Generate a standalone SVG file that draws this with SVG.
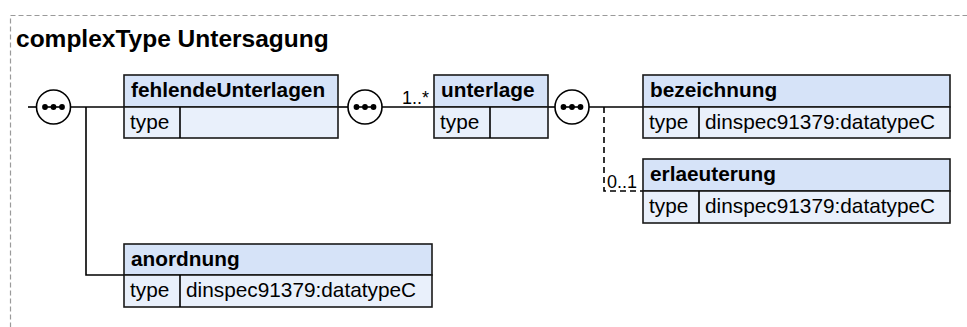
<svg xmlns="http://www.w3.org/2000/svg" width="967" height="327" viewBox="0 0 967 327">
<style>
  .frame{fill:none;stroke:#9a9a9a;stroke-width:1.2;stroke-dasharray:5,3}
  .title{font-family:"Liberation Sans",Arial,sans-serif;font-weight:bold;font-size:24.5px;fill:#000}
  .hdr{fill:#d6e3f8;stroke:#1a1a1a;stroke-width:1.6}
  .row{fill:#e9f0fb;stroke:#1a1a1a;stroke-width:1.6}
  .name{font-family:"Liberation Sans",Arial,sans-serif;font-weight:bold;font-size:20.8px;fill:#000}
  .txt{font-family:"Liberation Sans",Arial,sans-serif;font-size:20.8px;fill:#000}
  .card{font-family:"Liberation Sans",Arial,sans-serif;font-size:18px;fill:#000}
  .ln{fill:none;stroke:#000;stroke-width:1.6}
  .dash{fill:none;stroke:#000;stroke-width:1.6;stroke-dasharray:6,4}
  .comp{fill:#fff;stroke:#000;stroke-width:1.6}
  .dot{fill:#000}
</style>
<defs>
  <g id="seq">
    <circle class="comp" cx="0" cy="0" r="17"/>
    <line x1="-9" y1="0" x2="9" y2="0" stroke="#000" stroke-width="1.6"/>
    <circle class="dot" cx="-8.5" cy="0" r="2.9"/>
    <circle class="dot" cx="0" cy="0" r="2.9"/>
    <circle class="dot" cx="8.5" cy="0" r="2.9"/>
  </g>
</defs>
<rect class="frame" x="10.5" y="15.5" width="1000" height="400"/>
<text class="title" x="16" y="47">complexType Untersagung</text>

<g id="connectors">
  <line class="ln" x1="28" y1="107" x2="37" y2="107"/>
  <line class="ln" x1="70" y1="107" x2="124" y2="107"/>
  <polyline class="ln" points="86,107 86,275 124,275"/>
  <line class="ln" x1="338" y1="107" x2="348" y2="107"/>
  <line class="ln" x1="382" y1="107" x2="434" y2="107"/>
  <text class="card" x="402" y="104">1..*</text>
  <line class="ln" x1="548" y1="107" x2="555" y2="107"/>
  <line class="ln" x1="589" y1="107" x2="643" y2="107"/>
  <polyline class="dash" points="604,107 604,191 643,191"/>
  <text class="card" x="607" y="188">0..1</text>
</g>

<g id="seq1"><use href="#seq" x="53.5" y="107"/></g>
<g id="seq2"><use href="#seq" x="365" y="107"/></g>
<g id="seq3"><use href="#seq" x="572" y="107"/></g>

<g id="fehlendeUnterlagen">
  <rect class="hdr" x="124" y="75" width="214" height="32"/>
  <rect class="row" x="124" y="107" width="214" height="31"/>
  <line class="ln" x1="180" y1="107" x2="180" y2="138"/>
  <text class="name" x="131" y="97">fehlendeUnterlagen</text>
  <text class="txt" x="130" y="129">type</text>
</g>

<g id="unterlage">
  <rect class="hdr" x="434" y="75" width="114" height="32"/>
  <rect class="row" x="434" y="107" width="114" height="31"/>
  <line class="ln" x1="490" y1="107" x2="490" y2="138"/>
  <text class="name" x="441" y="97">unterlage</text>
  <text class="txt" x="440" y="129">type</text>
</g>

<g id="bezeichnung">
  <rect class="hdr" x="643" y="75" width="307" height="32"/>
  <rect class="row" x="643" y="107" width="307" height="31"/>
  <line class="ln" x1="699" y1="107" x2="699" y2="138"/>
  <text class="name" x="650" y="97">bezeichnung</text>
  <text class="txt" x="649" y="129">type</text>
  <text class="txt" x="705" y="129">dinspec91379:datatypeC</text>
</g>

<g id="erlaeuterung">
  <rect class="hdr" x="643" y="159" width="307" height="32"/>
  <rect class="row" x="643" y="191" width="307" height="32"/>
  <line class="ln" x1="699" y1="191" x2="699" y2="223"/>
  <text class="name" x="650" y="181">erlaeuterung</text>
  <text class="txt" x="649" y="213">type</text>
  <text class="txt" x="705" y="213">dinspec91379:datatypeC</text>
</g>

<g id="anordnung">
  <rect class="hdr" x="124" y="244" width="308" height="31"/>
  <rect class="row" x="124" y="275" width="308" height="32"/>
  <line class="ln" x1="180" y1="275" x2="180" y2="307"/>
  <text class="name" x="131" y="266">anordnung</text>
  <text class="txt" x="130" y="297">type</text>
  <text class="txt" x="186" y="297">dinspec91379:datatypeC</text>
</g>
</svg>
